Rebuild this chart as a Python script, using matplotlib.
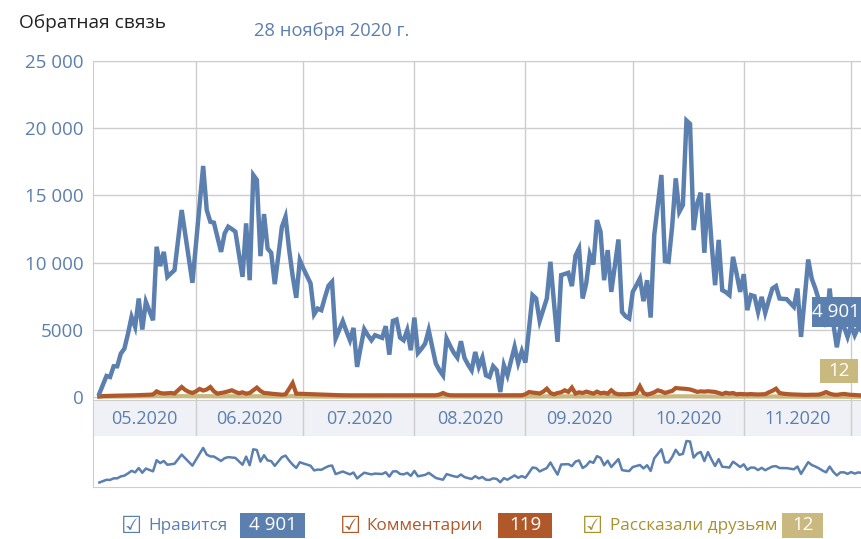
import matplotlib
matplotlib.use("Agg")
import matplotlib.pyplot as plt
from matplotlib.patches import Rectangle
import pandas as pd

# daily values, first day 05.05.2020
likes = [
    250, 900, 1565, 1490, 2285, 2285, 3230, 3600, 4700, 5960,
    5220, 7330, 5020, 7080, 6400, 5710, 11180, 9740, 10800, 8940,
    9200, 9440, 11700, 13910, 12100, 10300, 8500, 11400, 14300, 17190,
    13910, 13040, 12970, 11900, 10800, 12170, 12670, 12500, 12300, 10600,
    8940, 12920, 8690, 16520, 16150, 10480, 13610, 11050, 10730, 8400,
    10500, 12670, 13410, 11000, 9000, 7380, 10180, 9560, 9000, 8450,
    6160, 6580, 6460, 7400, 8270, 8570, 4350, 5000, 5640, 4900,
    4220, 5140, 2240, 3700, 5040, 4600, 4220, 4600, 4500, 4400,
    5270, 3150, 5660, 5760, 4420, 4220, 4970, 3480, 5910, 3280,
    3600, 3970, 4970, 3700, 2480, 2000, 1610, 4350, 3800, 3300,
    2930, 4150, 2910, 2400, 1990, 3350, 2240, 2930, 1610, 1490,
    2290, 1990, 370, 2360, 1610, 2700, 3730, 2530, 3400, 2560,
    5000, 7580, 7330, 5660, 6500, 7330, 10060, 7000, 4100, 9070,
    9150, 9240, 8250, 10510, 11050, 7330, 8450, 10600, 9860, 13160,
    12300, 8690, 10930, 7820, 9800, 11720, 6330, 6000, 5840, 7820,
    8300, 8820, 7130, 8690, 5910, 12050, 14300, 16520, 10110, 10060,
    12670, 16270, 13780, 14280, 20570, 20320, 12420, 14410, 15200, 10730,
    15150, 11500, 8320, 11690, 7950, 7800, 7580, 10430, 9190, 7820,
    9140, 6460, 7580, 7500, 6330, 7450, 6260, 7200, 8070, 8250,
    7330, 7300, 7280, 7000, 6710, 8070, 4470, 7300, 10230, 8800,
    8070, 7200, 6100, 5230, 8070, 5500, 3700, 5200, 5230, 4470,
    5360, 4600, 5200, 4901,
]

comments = [
    40, 70, 80, 90, 95, 100, 105, 110, 115, 120,
    130, 140, 150, 160, 170, 190, 420, 300, 260, 280,
    300, 260, 500, 745, 520, 380, 300, 420, 600, 480,
    560, 745, 420, 250, 300, 350, 420, 500, 380, 280,
    350, 250, 300, 500, 700, 450, 300, 280, 250, 220,
    200, 170, 200, 600, 1040, 250, 240, 230, 220, 210,
    200, 190, 180, 170, 160, 150, 140, 135, 130, 130,
    125, 125, 125, 125, 125, 125, 125, 125, 125, 125,
    125, 125, 125, 125, 125, 125, 125, 125, 125, 125,
    125, 125, 125, 125, 130, 180, 300, 180, 130, 125,
    125, 125, 125, 125, 125, 125, 125, 125, 125, 125,
    120, 120, 120, 120, 120, 120, 120, 120, 130, 200,
    370, 330, 300, 260, 400, 620, 300, 200, 300, 350,
    500, 380, 700, 260, 350, 300, 400, 330, 250, 400,
    280, 320, 250, 500, 280, 200, 210, 200, 220, 230,
    300, 800, 300, 180, 250, 350, 500, 420, 300, 380,
    450, 670, 640, 620, 600, 560, 480, 380, 420, 400,
    430, 400, 380, 300, 220, 320, 260, 300, 200, 230,
    210, 200, 220, 200, 190, 200, 210, 350, 460, 620,
    300, 250, 220, 200, 190, 180, 170, 160, 160, 170,
    170, 180, 260, 370, 250, 180, 160, 200, 230, 190,
    160, 150, 130, 119,
]

shares = [
    20, 25, 30, 30, 35, 35, 40, 40, 45, 45,
    50, 50, 55, 55, 60, 60, 70, 65, 60, 60,
    60, 55, 60, 70, 65, 60, 55, 60, 65, 60,
    60, 65, 55, 50, 50, 55, 60, 55, 50, 50,
    50, 45, 50, 55, 60, 55, 50, 45, 45, 40,
    40, 40, 45, 60, 70, 45, 40, 40, 40, 35,
    35, 35, 30, 30, 30, 30, 30, 30, 30, 30,
    30, 30, 30, 30, 30, 30, 30, 30, 30, 30,
    30, 30, 30, 30, 30, 30, 30, 30, 30, 30,
    30, 30, 30, 30, 30, 35, 40, 35, 30, 30,
    30, 30, 30, 30, 30, 30, 30, 30, 30, 30,
    30, 30, 30, 30, 30, 30, 30, 30, 30, 35,
    45, 40, 40, 35, 45, 55, 40, 35, 40, 40,
    50, 45, 55, 35, 40, 40, 45, 40, 35, 45,
    40, 40, 35, 50, 40, 35, 35, 35, 35, 35,
    40, 60, 40, 35, 35, 40, 50, 45, 40, 45,
    50, 60, 55, 55, 50, 50, 45, 40, 45, 40,
    40, 40, 40, 35, 30, 35, 30, 35, 30, 30,
    30, 30, 30, 30, 30, 30, 30, 35, 40, 45,
    30, 30, 25, 25, 25, 25, 20, 20, 20, 20,
    20, 20, 25, 30, 25, 20, 20, 20, 20, 15,
    15, 15, 12, 12,
]

start_day = "2020-05-05"
month_starts = ["2020-06-01", "2020-07-01", "2020-08-01", "2020-09-01",
                "2020-10-01", "2020-11-01", "2020-12-01"]
month_labels = ["05.2020", "06.2020", "07.2020", "08.2020", "09.2020", "10.2020", "11.2020"]
ytick_values = [0, 5000, 10000, 15000, 20000, 25000]
ytick_labels = ["0", "5000", "10 000", "15 000", "20 000", "25 000"]

BLUE = "#5b7fae"
ORANGE = "#b0582a"
TAN = "#c9b97f"
OLIVE = "#a8912e"
GRID = "#cdcdcd"

plt.rcParams["font.family"] = ["Open Sans", "DejaVu Sans"]

dates = pd.date_range(start_day, periods=len(likes), freq="D")
months = pd.to_datetime(month_starts)
x_left = pd.Timestamp("2020-05-01") + pd.Timedelta(days=2.23)
x_right = x_left + pd.Timedelta(days=787 / 3.58)

W, H = 861, 539
fig = plt.figure(figsize=(W / 100, H / 100), dpi=100)


def rect(l, t, r, b):
    return [l / W, 1 - b / H, (r - l) / W, (b - t) / H]


def label_box(l, t, r, b, color, text, text_x=None):
    fig.patches.append(Rectangle((l / W, 1 - b / H), (r - l) / W, (b - t) / H,
                                 transform=fig.transFigure, fc=color, ec="none", zorder=10))
    if text_x is None:
        text_x = (l + r) / 2
    fig.text(text_x / W, 1 - (t + b) / 2 / H, text, ha="center", va="center",
             color="white", fontsize=13.5, zorder=11)


def fmt(v):
    return f"{v:,}".replace(",", " ")


# main chart
ax = fig.add_axes(rect(93, 61, 880, 400))
ax.plot(dates, shares, color=TAN, lw=3, zorder=3, solid_joinstyle="miter")
ax.plot(dates, comments, color=ORANGE, lw=3, zorder=4, solid_joinstyle="miter")
ax.plot(dates, likes, color=BLUE, lw=3.2, zorder=5, solid_joinstyle="miter")
ax.set_xlim(x_left, x_right)
ax.set_ylim(-223, 25000)
ax.set_yticks(ytick_values)
ax.set_yticklabels(ytick_labels)
ax.set_xticks(months)
ax.set_xticklabels([])
ax.tick_params(length=0, labelsize=13.5, labelcolor=BLUE, pad=6.5)
ax.grid(True, color=GRID, lw=1)
for s in ["right", "bottom"]:
    ax.spines[s].set_visible(False)
for s in ["left", "top"]:
    ax.spines[s].set_color(GRID)

# last-value labels at the right edge
label_box(812, 297, 875, 327, BLUE, fmt(likes[-1]), text_x=836)
label_box(820, 359, 858, 383, TAN, str(shares[-1]))

# month band
band = fig.add_axes(rect(93, 400, 880, 436))
band.set_facecolor("#eff1f6")
band.set_xlim(x_left, x_right)
band.set_ylim(0, 1)
band.set_xticks([])
band.set_yticks([])
for s in band.spines.values():
    s.set_color(GRID)
for m in months:
    band.axvline(m, color=GRID, lw=1)
edges = [x_left] + list(months)
for i, lab in enumerate(month_labels):
    mid = edges[i] + (edges[i + 1] - edges[i]) / 2
    band.text(mid, 0.47, lab, ha="center", va="center", color=BLUE, fontsize=13)

# navigator
nav = fig.add_axes(rect(93, 436, 880, 487))
nav.plot(dates, likes, color=BLUE, lw=1.8)
nav.set_xlim(x_left, x_right)
nav.set_ylim(-1960, 23020)
nav.set_xticks([])
nav.set_yticks([])
for s in ["right", "top"]:
    nav.spines[s].set_visible(False)
for s in ["left", "bottom"]:
    nav.spines[s].set_color(GRID)

# header
fig.text(19 / W, 1 - 28.5 / H, "Обратная связь", fontsize=13.8, color="#222222", va="baseline")
fig.text(254 / W, 1 - 36.5 / H, "28 ноября 2020 г.", fontsize=13.2, color=BLUE, va="baseline")

# legend
legend_items = [
    (121, 148, (240, 305), "Нравится", fmt(likes[-1]), BLUE, BLUE),
    (340, 366, (498, 552), "Комментарии", str(comments[-1]), ORANGE, ORANGE),
    (582, 610, (782, 823), "Рассказали друзьям", str(shares[-1]), OLIVE, TAN),
]
ly = 1 - 526 / H
for xc, xt, (bl, br), name, val, tcol, bcol in legend_items:
    fig.text(xc / W, ly, "\u2611", fontsize=17, color=tcol, va="center",
             family=["DejaVu Sans"])
    fig.text(xt / W, ly, name, fontsize=12.3, color=tcol, va="center")
    label_box(bl, 513, br, 538, bcol, val)

fig.savefig("out.png", dpi=100)
